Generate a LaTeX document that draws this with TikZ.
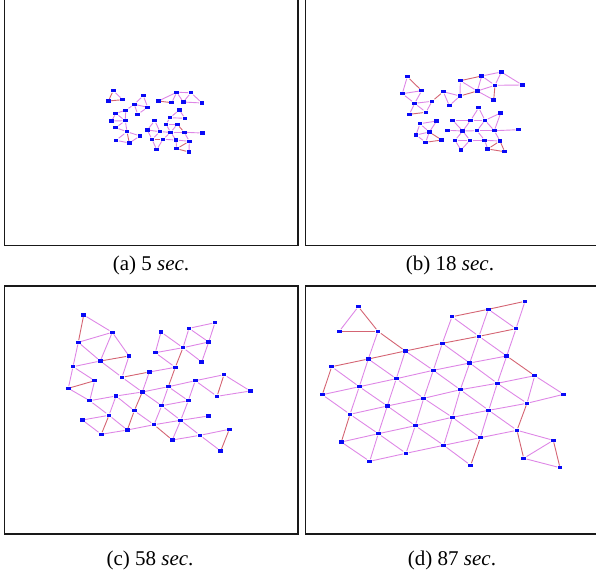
\documentclass[tikz,border=0pt]{standalone}
\usepackage{fontspec}
\setmainfont{Liberation Serif}
\definecolor{moteBlue}{RGB}{10, 10, 245}
\definecolor{linkPink}{RGB}{222, 135, 230}
\definecolor{linkRed}{RGB}{212, 100, 115}
\definecolor{frameGray}{RGB}{25, 25, 25}

\begin{document}
\begin{tikzpicture}[x=0.5pt, y=-0.5pt,
    mote/.style={rectangle, fill=moteBlue, minimum width=2.4pt, minimum height=1.7pt, inner sep=0pt},
    link/.style={linkPink, line width=0.45pt},
    redlink/.style={linkRed, line width=0.45pt},
    panel/.style={frameGray, line width=0.75pt},
    caption/.style={font=\fontsize{10.5}{12}\selectfont, inner sep=0pt}]
  \useasboundingbox (0,0) rectangle (596,579);
  \clip (0,0) rectangle (596,579);

  % frames
  \draw[panel] (4.5,-5) rectangle (298,245.5);
  \draw[panel] (305.5,-5) rectangle (600,245.5);
  \draw[panel] (4.5,286) rectangle (298,534);
  \draw[panel] (305.5,286) rectangle (600,534);

  % (a) 5 sec
  \foreach \n/\x/\y in {a1/113.3/90.7, a2/108.3/101, a3/122.7/99.7, a4/143.3/95.7, a5/134.3/104.3,
      a6/147.7/107.3, a7/137.7/114.3, a8/125.7/110.3, a9/115.7/113.3, a10/111.7/121,
      a11/125.3/120.7, a12/115.7/127.7, a13/127/131.7, a14/140/136, a15/116/140.3,
      a16/129.3/143, a17/158.3/101, a18/171.7/102.7, a19/176.7/92.3, a20/183.3/102,
      a21/191/92.7, a22/202/103, a23/179.3/110, a24/170/117.7, a25/185/118.3,
      a26/154.7/120.7, a27/166/124.3, a28/177.3/124.3, a29/147.3/130, a30/160/131.7,
      a31/170.7/132.3, a32/184.3/132.3, a33/202.3/133, a34/152/139.3, a35/163/139.3,
      a36/176/140, a37/189.3/141.3, a38/156.7/149.7, a39/176.7/148.7, a40/189/152}
    \node[mote] (\n) at (\x,\y) {};
  \foreach \p/\q in {a1/a3, a4/a5, a4/a6, a5/a6, a5/a7, a6/a7, a5/a8, a8/a9, a8/a11, a9/a10,
      a9/a11, a10/a11, a11/a12, a11/a13, a12/a13, a13/a14, a13/a15, a15/a16, a16/a14,
      a17/a19, a18/a19, a19/a20, a19/a21, a20/a21, a21/a22, a20/a22, a23/a24, a23/a25,
      a24/a25, a26/a29, a26/a30, a29/a30, a29/a34, a30/a34, a30/a31, a27/a28, a27/a31,
      a28/a31, a31/a32, a32/a33, a31/a35, a31/a36, a35/a36, a34/a38, a35/a38, a32/a37,
      a36/a37, a36/a39, a37/a40, a24/a27}
    \draw[link] (\p) -- (\q);
  \foreach \p/\q in {a1/a2, a2/a3, a17/a18, a13/a16, a34/a35, a39/a40, a37/a39, a28/a32}
    \draw[redlink] (\p) -- (\q);
  \node[caption] (capa) at (151,265) {(a) 5 \textit{sec}.};

  % (b) 18 sec
  \foreach \n/\x/\y in {b1/407.3/76.7, b2/402.3/93.7, b3/421.7/90.7, b4/414.7/103.3, b5/409.3/114.3,
      b6/426/112.3, b7/432/101.3, b8/443.3/91.7, b9/449.3/105.7, b10/460/96,
      b11/460.3/80.7, b12/481.7/76, b13/477.3/91, b14/495/85.3, b15/501.3/72,
      b16/522.3/85, b17/493.7/100, b18/420/123.7, b19/436.7/121, b20/416/135,
      b21/429.3/132, b22/425.7/142.3, b23/441.7/140, b24/452.7/120.3, b25/470.7/120.3,
      b26/478.7/107.7, b27/485/120.3, b28/500.7/113, b29/447.7/130.3, b30/462.7/131,
      b31/477/130.7, b32/494.3/130.7, b33/518.3/129.7, b34/455/140.3, b35/470/140.3,
      b36/484.7/140.3, b37/500/141, b38/461/150, b39/487.7/149, b40/504.7/151.7}
    \node[mote] (\n) at (\x,\y) {};
  \foreach \p/\q in {b1/b2, b2/b3, b2/b4, b3/b4, b4/b5, b4/b6, b4/b7, b6/b7, b8/b9, b8/b10,
      b9/b10, b10/b11, b11/b13, b12/b13, b12/b14, b12/b15, b13/b14, b14/b15, b15/b16,
      b14/b16, b13/b17, b18/b19, b18/b20, b18/b21, b19/b21, b20/b21, b20/b22, b21/b22,
      b24/b25, b24/b30, b25/b30, b25/b26, b26/b27, b25/b27, b27/b28, b27/b31, b27/b32,
      b28/b32, b29/b30, b30/b31, b31/b32, b32/b33, b30/b34, b30/b35, b34/b35, b34/b38,
      b35/b38, b35/b36, b31/b36, b36/b37, b32/b37, b36/b39}
    \draw[link] (\p) -- (\q);
  \foreach \p/\q in {b1/b3, b5/b6, b7/b8, b10/b13, b11/b12, b14/b17, b21/b23, b22/b23,
      b37/b39, b39/b40, b37/b40}
    \draw[redlink] (\p) -- (\q);
  \node[caption] (capb) at (450,265) {(b) 18 \textit{sec}.};

  % (c) 58 sec
  \foreach \n/\x/\y in {c1/83.7/315, c2/112.3/332.3, c3/78.3/342.3, c4/129/356, c5/100.3/361,
      c6/73/366.7, c7/122/377.3, c8/94.7/380.7, c9/68.3/388.3, c10/89.7/400.7,
      c11/116/396, c12/142.3/392, c13/149.3/372, c14/175.3/367.3, c15/168.3/386.7,
      c16/195.3/380.7, c17/224/374.7, c18/217/396.3, c19/250.3/391, c20/188.3/400.7,
      c21/161.7/405.7, c22/134.3/410.7, c23/109/415.3, c24/82.3/420, c25/101.3/434.3,
      c26/127.3/430, c27/154/424.7, c28/180.7/420.3, c29/208.3/416, c30/172.3/440,
      c31/200/435.3, c32/229.3/429.3, c33/220.7/451, c34/161/332, c35/189/328.3,
      c36/215/322.7, c37/155.3/352.7, c38/183/347.7, c39/208.7/342, c40/201.7/362}
    \node[mote] (\n) at (\x,\y) {};
  \foreach \p/\q in {c1/c2, c2/c3, c2/c5, c2/c4, c3/c5, c3/c6, c4/c7, c5/c7, c5/c6, c6/c8,
      c6/c9, c8/c10, c9/c10, c10/c11, c11/c12, c12/c7, c13/c12, c12/c15, c15/c16, c16/c17,
      c18/c19, c17/c19, c16/c18, c15/c20, c16/c20, c14/c37, c12/c21, c15/c21, c21/c20,
      c11/c22, c10/c23, c11/c23, c22/c27, c21/c27, c21/c28, c20/c28, c28/c29, c23/c24,
      c24/c25, c23/c26, c25/c26, c26/c27, c27/c28, c28/c30, c28/c31, c30/c31, c31/c32,
      c31/c33, c34/c37, c37/c38, c38/c35, c35/c36, c35/c39, c36/c39, c38/c39, c38/c40,
      c39/c40, c13/c14, c34/c38}
    \draw[link] (\p) -- (\q);
  \foreach \p/\q in {c1/c3, c4/c5, c9/c8, c7/c13, c14/c15, c14/c38, c23/c25, c17/c18,
      c32/c33, c12/c22, c22/c26, c27/c30}
    \draw[redlink] (\p) -- (\q);
  \node[caption] (capc) at (150,560) {(c) 58 \textit{sec}.};

  % (d) 87 sec
  \foreach \n/\x/\y in {d1/358.3/306.7, d2/339.3/331.3, d3/378/331.3, d4/452/316.7, d5/488.3/309.3,
      d6/525/301.3, d7/516/328.7, d8/479/336.3, d9/442.3/343.3, d10/405.3/351,
      d11/368.3/359, d12/331.7/366.7, d13/506.7/356, d14/469.7/363, d15/433.3/370.3,
      d16/396.3/378.7, d17/359.3/386.7, d18/322.3/394.7, d19/534.7/375.7, d20/497.3/383.3,
      d21/460.3/389.7, d22/423.7/398.3, d23/387.3/406, d24/350/414.3, d25/563.7/394.3,
      d26/527/403.3, d27/488.7/410.3, d28/452.3/417.3, d29/415.3/425.7, d30/378.3/433.7,
      d31/341.3/442, d32/517/430.3, d33/480.3/437.7, d34/443.7/445.3, d35/406/453.3,
      d36/369.7/461.3, d37/470.7/465.3, d38/553.3/440.3, d39/523.7/458.3, d40/560/467.7}
    \node[mote] (\n) at (\x,\y) {};
  \foreach \p/\q in {d36/d35, d35/d34, d34/d33, d33/d32, d31/d30, d30/d29, d29/d28, d28/d27,
      d27/d26, d26/d25, d24/d23, d23/d22, d22/d21, d21/d20, d20/d19, d18/d17, d17/d16,
      d16/d15, d15/d14, d14/d13,
      d36/d30, d35/d29, d34/d28, d33/d27, d30/d23, d29/d22, d28/d21, d27/d20,
      d26/d19, d24/d17, d23/d16, d22/d15, d21/d14, d20/d13, d17/d11, d16/d10, d15/d9,
      d14/d8, d13/d7, d9/d4, d8/d5, d7/d6,
      d31/d36, d30/d35, d29/d34, d28/d33, d27/d32, d24/d30, d23/d29, d22/d28, d21/d27,
      d20/d26, d19/d25, d18/d24, d17/d23, d16/d22, d15/d21, d14/d20, d12/d17, d11/d16,
      d10/d15, d9/d14, d8/d13, d4/d8, d5/d7,
      d1/d2, d3/d11, d37/d34, d32/d38, d38/d39, d39/d40}
    \draw[link] (\p) -- (\q);
  \foreach \p/\q in {d12/d11, d11/d10, d10/d9, d9/d8, d8/d7, d4/d5, d5/d6, d1/d3, d2/d3,
      d3/d10, d12/d18, d31/d24, d13/d19, d32/d39, d38/d40, d26/d32, d33/d37}
    \draw[redlink] (\p) -- (\q);
  \node[caption] (capd) at (452,560) {(d) 87 \textit{sec}.};
\end{tikzpicture}
\end{document}
